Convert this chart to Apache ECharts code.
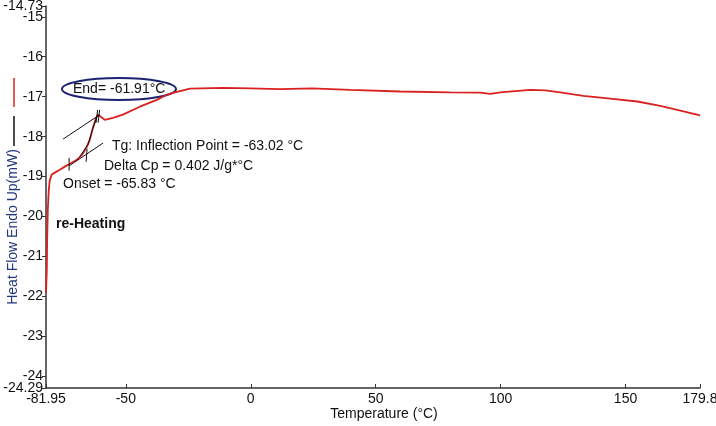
<!DOCTYPE html>
<html>
<head>
<meta charset="utf-8">
<script src="https://cdn.jsdelivr.net/npm/echarts@6/dist/echarts.min.js"></script>
<style>html,body{margin:0;padding:0;background:#fff}#c{width:716px;height:426px}</style>
</head>
<body>
<div id="c"></div>
<script>
// Temperature (°C) and heat flow (mW)
const temperatureC = [-81.95,-81.83,-81.63,-81.51,-81.23,-80.83,-80.43,-79.63,-78.42,-76.42,-74.42,-72.41,-69.61,-67.21,-65.6,-64.4,-63.2,-62.0,-61.2,-60.0,-58.4,-55.2,-51.2,-44.4,-37.6,-33.6,-29.6,-24.3,-11.1,-0.3,11.7,24.5,39.8,59.8,79.8,91.8,95.9,99.9,111.9,117.9,123.9,133.1,143.9,154.7,163.9,173.2,179.8];
const heatFlowMW   = [-21.9,-21.88,-21.33,-20.65,-19.83,-19.33,-19.08,-18.95,-18.9,-18.83,-18.75,-18.68,-18.58,-18.43,-18.25,-18.08,-17.78,-17.55,-17.45,-17.5,-17.58,-17.53,-17.45,-17.25,-17.08,-16.95,-16.88,-16.80,-16.78,-16.79,-16.81,-16.79,-16.83,-16.87,-16.89,-16.90,-16.93,-16.89,-16.83,-16.84,-16.89,-16.98,-17.05,-17.12,-17.23,-17.37,-17.47];

// Tangent / analysis construction lines (temperature, heat flow)
const baselineTangent   = [[-75.1,-18.06],[-60.4,-17.45]];
const onsetPointer      = [[-72.7,-18.73],[-59.1,-18.16]];
const inflectionTangent = [[-68.4,-18.5],[-65.2,-18.2],[-63.6,-17.88],[-61.6,-17.5]];
const onsetTick         = [[-72.7,-18.53],[-72.7,-18.85]];
const inflectionTick    = [[-65.5,-18.3],[-65.9,-18.63]];
const endTickA          = [[-61.3,-17.33],[-61.9,-17.65]];
const endTickB          = [[-60.5,-17.33],[-61.1,-17.65]];

const xTickValues = [-81.95,-50,0,50,100,150,179.8];
const yTickValues = [-24,-23,-22,-21,-20,-19,-18,-17,-16,-15];
const yRangeTickValues = [-24.29,-14.73];

const FONT = '"Liberation Sans", Arial, sans-serif';
const curve = temperatureC.map((t,i)=>[t,heatFlowMW[i]]);
const blackLine = (d)=>({type:'line',data:d,symbol:'none',silent:true,z:3,
  lineStyle:{color:'#111',width:1},itemStyle:{color:'#111'}});
const yAxisBase = (vals, showLine)=>({type:'value',min:-24.29,max:-14.73,position:'left',
    axisLine:{show:showLine,onZero:false,lineStyle:{color:'#333',width:1.5}},
    axisTick:{show:true,customValues:vals,length:4,lineStyle:{color:'#333'}},
    axisLabel:{customValues:vals,hideOverlap:false,showMinLabel:true,showMaxLabel:true,color:'#111',fontFamily:FONT,fontSize:14,margin:3},
    splitLine:{show:false}});

const chart = echarts.init(document.getElementById('c'));
chart.setOption({
  animation:false,
  backgroundColor:'#fff',
  grid:{left:46,right:16,top:6,bottom:38,containLabel:false,outerBoundsMode:'none'},
  xAxis:{type:'value',min:-81.95,max:179.8,
    axisLine:{show:true,onZero:false,lineStyle:{color:'#333',width:1.5}},
    axisTick:{show:true,customValues:xTickValues,length:4,inside:true,lineStyle:{color:'#333'}},
    axisLabel:{customValues:xTickValues,hideOverlap:false,showMinLabel:true,showMaxLabel:true,color:'#111',fontFamily:FONT,fontSize:14,margin:4},
    splitLine:{show:false}},
  yAxis:[yAxisBase(yTickValues,true), yAxisBase(yRangeTickValues,false)],
  series:[
    {type:'line',data:curve,symbol:'none',z:2,lineStyle:{color:'#d9211f',width:1.8},itemStyle:{color:'#d9211f'}},
    blackLine(baselineTangent),
    blackLine(onsetPointer),
    blackLine(inflectionTangent),
    blackLine(onsetTick),
    blackLine(inflectionTick),
    blackLine(endTickA),
    blackLine(endTickB)
  ],
  graphic:[
    {type:'line',shape:{x1:14,y1:78,x2:14,y2:107},style:{stroke:'#e0201b',lineWidth:1.5}},
    {type:'line',shape:{x1:14,y1:116,x2:14,y2:146},style:{stroke:'#111',lineWidth:1.5}},
    {type:'text',x:13,y:227,rotation:Math.PI/2,style:{text:'Heat Flow Endo Up(mW)',fill:'#23367d',font:'14px '+FONT,align:'center',verticalAlign:'middle'}},
    {type:'text',x:384,y:414,style:{text:'Temperature (°C)',fill:'#111',font:'14px '+FONT,align:'center',verticalAlign:'middle'}},
    {type:'ellipse',shape:{cx:119,cy:89,rx:57,ry:11},style:{fill:'none',stroke:'#1c2170',lineWidth:2}},
    {type:'text',x:73,y:89,style:{text:'End= -61.91°C',fill:'#111',font:'14px '+FONT,verticalAlign:'middle'}},
    {type:'text',x:112,y:146,style:{text:'Tg: Inflection Point = -63.02 °C',fill:'#111',font:'14px '+FONT,verticalAlign:'middle'}},
    {type:'text',x:104,y:166,style:{text:'Delta Cp = 0.402 J/g*°C',fill:'#111',font:'14px '+FONT,verticalAlign:'middle'}},
    {type:'text',x:63,y:184,style:{text:'Onset = -65.83 °C',fill:'#111',font:'14px '+FONT,verticalAlign:'middle'}},
    {type:'text',x:56,y:224,style:{text:'re-Heating',fill:'#111',font:'bold 14px '+FONT,verticalAlign:'middle'}}
  ]
});
</script>
</body>
</html>
